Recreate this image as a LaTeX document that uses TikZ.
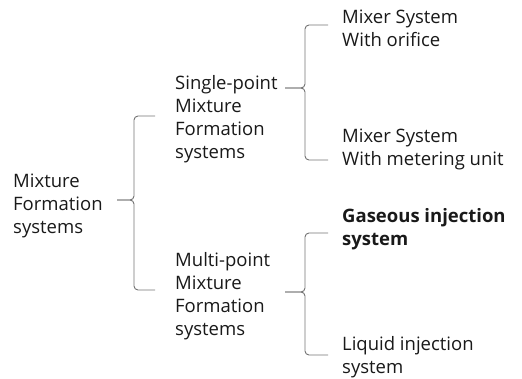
\documentclass[tikz,border=0pt]{standalone}
\usepackage{fontspec}
\setmainfont{Open Sans}
\begin{document}
\begin{tikzpicture}[x=1pt,y=-1pt,
  lbl/.style={anchor=west,align=left,inner sep=0pt,font=\fontsize{18.5}{23}\selectfont,text=black!90},
  brace/.style={draw=black!55,line width=0.9pt,rounded corners=4pt}]
\useasboundingbox (0,0) rectangle (522,379);
\node[lbl] (root) at (13,206) {Mixture\\Formation\\systems};
\node[lbl] (single) at (175,119.5) {Single-point\\Mixture\\Formation\\systems};
\node[lbl] (multi) at (175,296.5) {Multi-point\\Mixture\\Formation\\systems};
\node[lbl] (orif) at (342,28.5) {Mixer System\\With orifice};
\node[lbl] (meter) at (342,149.5) {Mixer System\\With metering unit};
\node[lbl,font=\fontsize{18.5}{23}\selectfont\bfseries] (gas) at (342,229.5) {Gaseous injection\\system};
\node[lbl] (liq) at (342,357.5) {Liquid injection\\system};
% brace 1
\coordinate (b1t) at (155,116); \coordinate (b1b) at (155,290); \coordinate (b1m) at (117,200);
\draw[brace] (b1t) -- (134,116) -- (134,200) -- (b1m);
\draw[brace] (b1b) -- (134,290) -- (134,200) -- (b1m);
% brace 2
\coordinate (b2t) at (328,25); \coordinate (b2b) at (328,160); \coordinate (b2m) at (285,88);
\draw[brace] (b2t) -- (305,25) -- (305,88) -- (b2m);
\draw[brace] (b2b) -- (305,160) -- (305,88) -- (b2m);
% brace 3
\coordinate (b3t) at (328,233); \coordinate (b3b) at (328,355); \coordinate (b3m) at (285,292);
\draw[brace] (b3t) -- (305,233) -- (305,292) -- (b3m);
\draw[brace] (b3b) -- (305,355) -- (305,292) -- (b3m);
\end{tikzpicture}
\end{document}
